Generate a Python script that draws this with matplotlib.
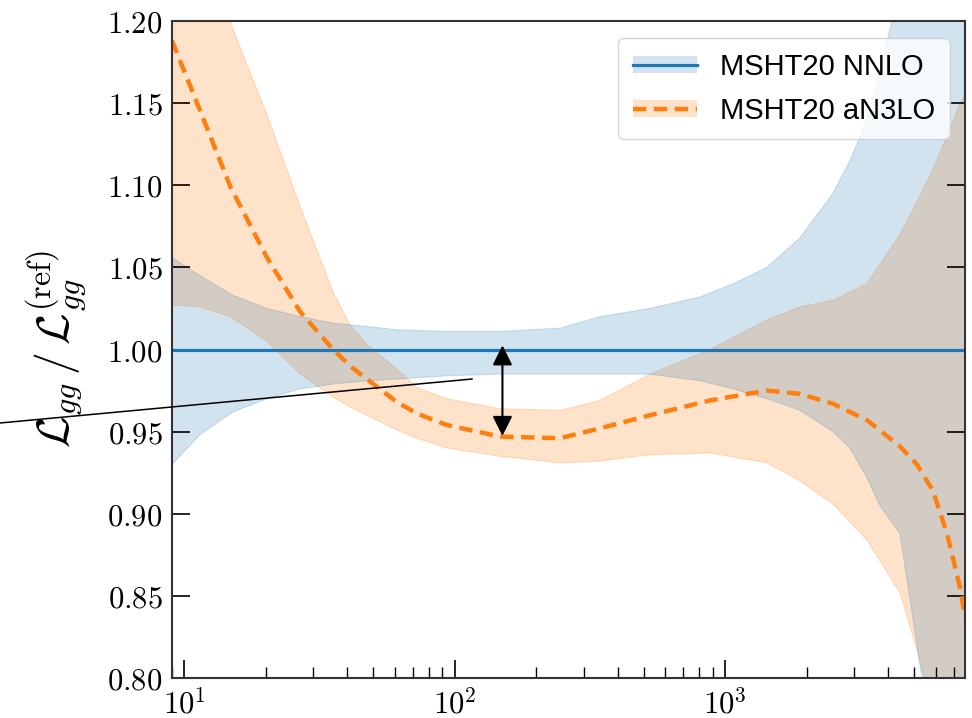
import numpy as np
import matplotlib
matplotlib.use("Agg")
import matplotlib.pyplot as plt
from matplotlib.patches import Patch
from matplotlib.lines import Line2D
from matplotlib.ticker import FuncFormatter, LogLocator, NullFormatter, MultipleLocator

plt.rcParams['mathtext.fontset'] = 'cm'

# MSHT20 NNLO band (ratio to itself -> central = 1)
nnlo_x = [9.0, 11.4, 15.1, 20.2, 26.8, 35.5, 47.3, 61.1, 93.5, 147, 245, 344,
          527, 807, 1069, 1426, 1889, 2500, 2891, 3341, 3733, 4425, 5337, 7700]
nnlo_hi = [1.056, 1.045, 1.033, 1.025, 1.020, 1.016, 1.014, 1.012, 1.011, 1.011,
           1.013, 1.020, 1.025, 1.032, 1.040, 1.050, 1.068, 1.095, 1.115, 1.140,
           1.170, 1.220, 1.300, 1.500]
nnlo_lo = [0.930, 0.948, 0.962, 0.970, 0.976, 0.979, 0.981, 0.982, 0.984, 0.985,
           0.985, 0.985, 0.985, 0.981, 0.976, 0.970, 0.963, 0.950, 0.940, 0.922,
           0.905, 0.888, 0.800, 0.600]

# MSHT20 aN3LO
an3lo_x = [9.0, 11.4, 14.8, 20.2, 26.8, 35.5, 41.0, 47.3, 61.1, 72.5, 93.5, 147,
           245, 344, 527, 879, 1426, 1889, 2500, 3341, 4425, 5117, 5861, 6607,
           7379, 7700]
an3lo_c = [1.188, 1.146, 1.099, 1.056, 1.023, 1.000, 0.990, 0.982, 0.968, 0.961,
           0.954, 0.947, 0.946, 0.952, 0.960, 0.969, 0.975, 0.973, 0.967, 0.957,
           0.941, 0.930, 0.914, 0.888, 0.855, 0.837]
an3lo_hi = [1.330, 1.260, 1.199, 1.143, 1.087, 1.035, 1.015, 1.003, 0.988, 0.977,
            0.970, 0.964, 0.963, 0.969, 0.985, 1.000, 1.018, 1.026, 1.030, 1.040,
            1.070, 1.090, 1.110, 1.130, 1.150, 1.155]
an3lo_lo = [1.027, 1.026, 1.020, 1.005, 0.985, 0.971, 0.965, 0.960, 0.951, 0.946,
            0.940, 0.935, 0.931, 0.932, 0.936, 0.937, 0.931, 0.920, 0.906, 0.884,
            0.852, 0.817, 0.780, 0.740, 0.700, 0.680]

labels = ['MSHT20 NNLO', 'MSHT20 aN3LO']
xlim = (9.0, 7700)
ylim = (0.80, 1.20)

# arrow showing the shift around 150 GeV
arrow_x = 150
arrow_y = (0.9474, 1.0025)

c_blue = '#1f77b4'
c_orange = '#ff7f0e'

fig = plt.figure(figsize=(9.72, 7.18), dpi=100)
ax = fig.add_axes([172/972, 40/718, 793/972, 657/718])

ax.fill_between(an3lo_x, an3lo_lo, an3lo_hi, color=c_orange, alpha=0.22, lw=0.8)
ax.fill_between(nnlo_x, nnlo_lo, nnlo_hi, color=c_blue, alpha=0.2, lw=0.8)
ax.axhline(1.0, color=c_blue, lw=2.3)
ax.plot(an3lo_x, an3lo_c, color=c_orange, lw=3.2, dashes=(3, 1.7))

ax.set_xscale('log')
ax.set_xlim(*xlim)
ax.set_ylim(*ylim)

ax.xaxis.set_major_locator(LogLocator(base=10))
ax.xaxis.set_minor_locator(LogLocator(base=10, subs=np.arange(2, 10)))
ax.xaxis.set_major_formatter(FuncFormatter(lambda v, p: r'$10^{%d}$' % round(np.log10(v))))
ax.xaxis.set_minor_formatter(NullFormatter())
ax.yaxis.set_major_locator(MultipleLocator(0.05))
ax.yaxis.set_major_formatter(FuncFormatter(lambda v, p: r'$%.2f$' % v))

ax.tick_params(which='both', direction='in', right=True, top=False, labelsize=22)
ax.tick_params(which='major', length=13, width=1.2, pad=7)
ax.tick_params(which='minor', length=8, width=1.0)
for s in ax.spines.values():
    s.set_linewidth(1.5)
    s.set_color('#333333')

ax.set_ylabel(r'$\mathcal{L}_{gg}\,/\,\mathcal{L}_{gg}^{(\mathrm{ref})}$', fontsize=33)
ax.yaxis.set_label_coords(-0.105, 0.5)

h1 = (Patch(facecolor=c_blue, alpha=0.2), Line2D([], [], color=c_blue, lw=2.3))
h2 = (Patch(facecolor=c_orange, alpha=0.22), Line2D([], [], color=c_orange, lw=3.2, dashes=(3, 1.7)))
leg = ax.legend([h1, h2], labels, loc='upper right', bbox_to_anchor=(0.981, 0.974),
                borderaxespad=0, prop={'family': 'Liberation Sans', 'size': 21},
                handlelength=2.2, handleheight=0.5, handletextpad=0.8,
                labelspacing=0.55, borderpad=0.5, framealpha=0.8, edgecolor='#cccccc')

ax.annotate('', xy=(arrow_x, arrow_y[0]), xytext=(arrow_x, arrow_y[1]),
            arrowprops=dict(arrowstyle='<|-|>', color='k', lw=1.5,
                            mutation_scale=30, shrinkA=0, shrinkB=0))

# thin pointer line starting at the left border of the figure
fig.add_artist(Line2D([0, 472/972], [1 - 423/718, 1 - 379/718], color='k', lw=1.1,
                      transform=fig.transFigure))

fig.savefig('out.png', dpi=100)
